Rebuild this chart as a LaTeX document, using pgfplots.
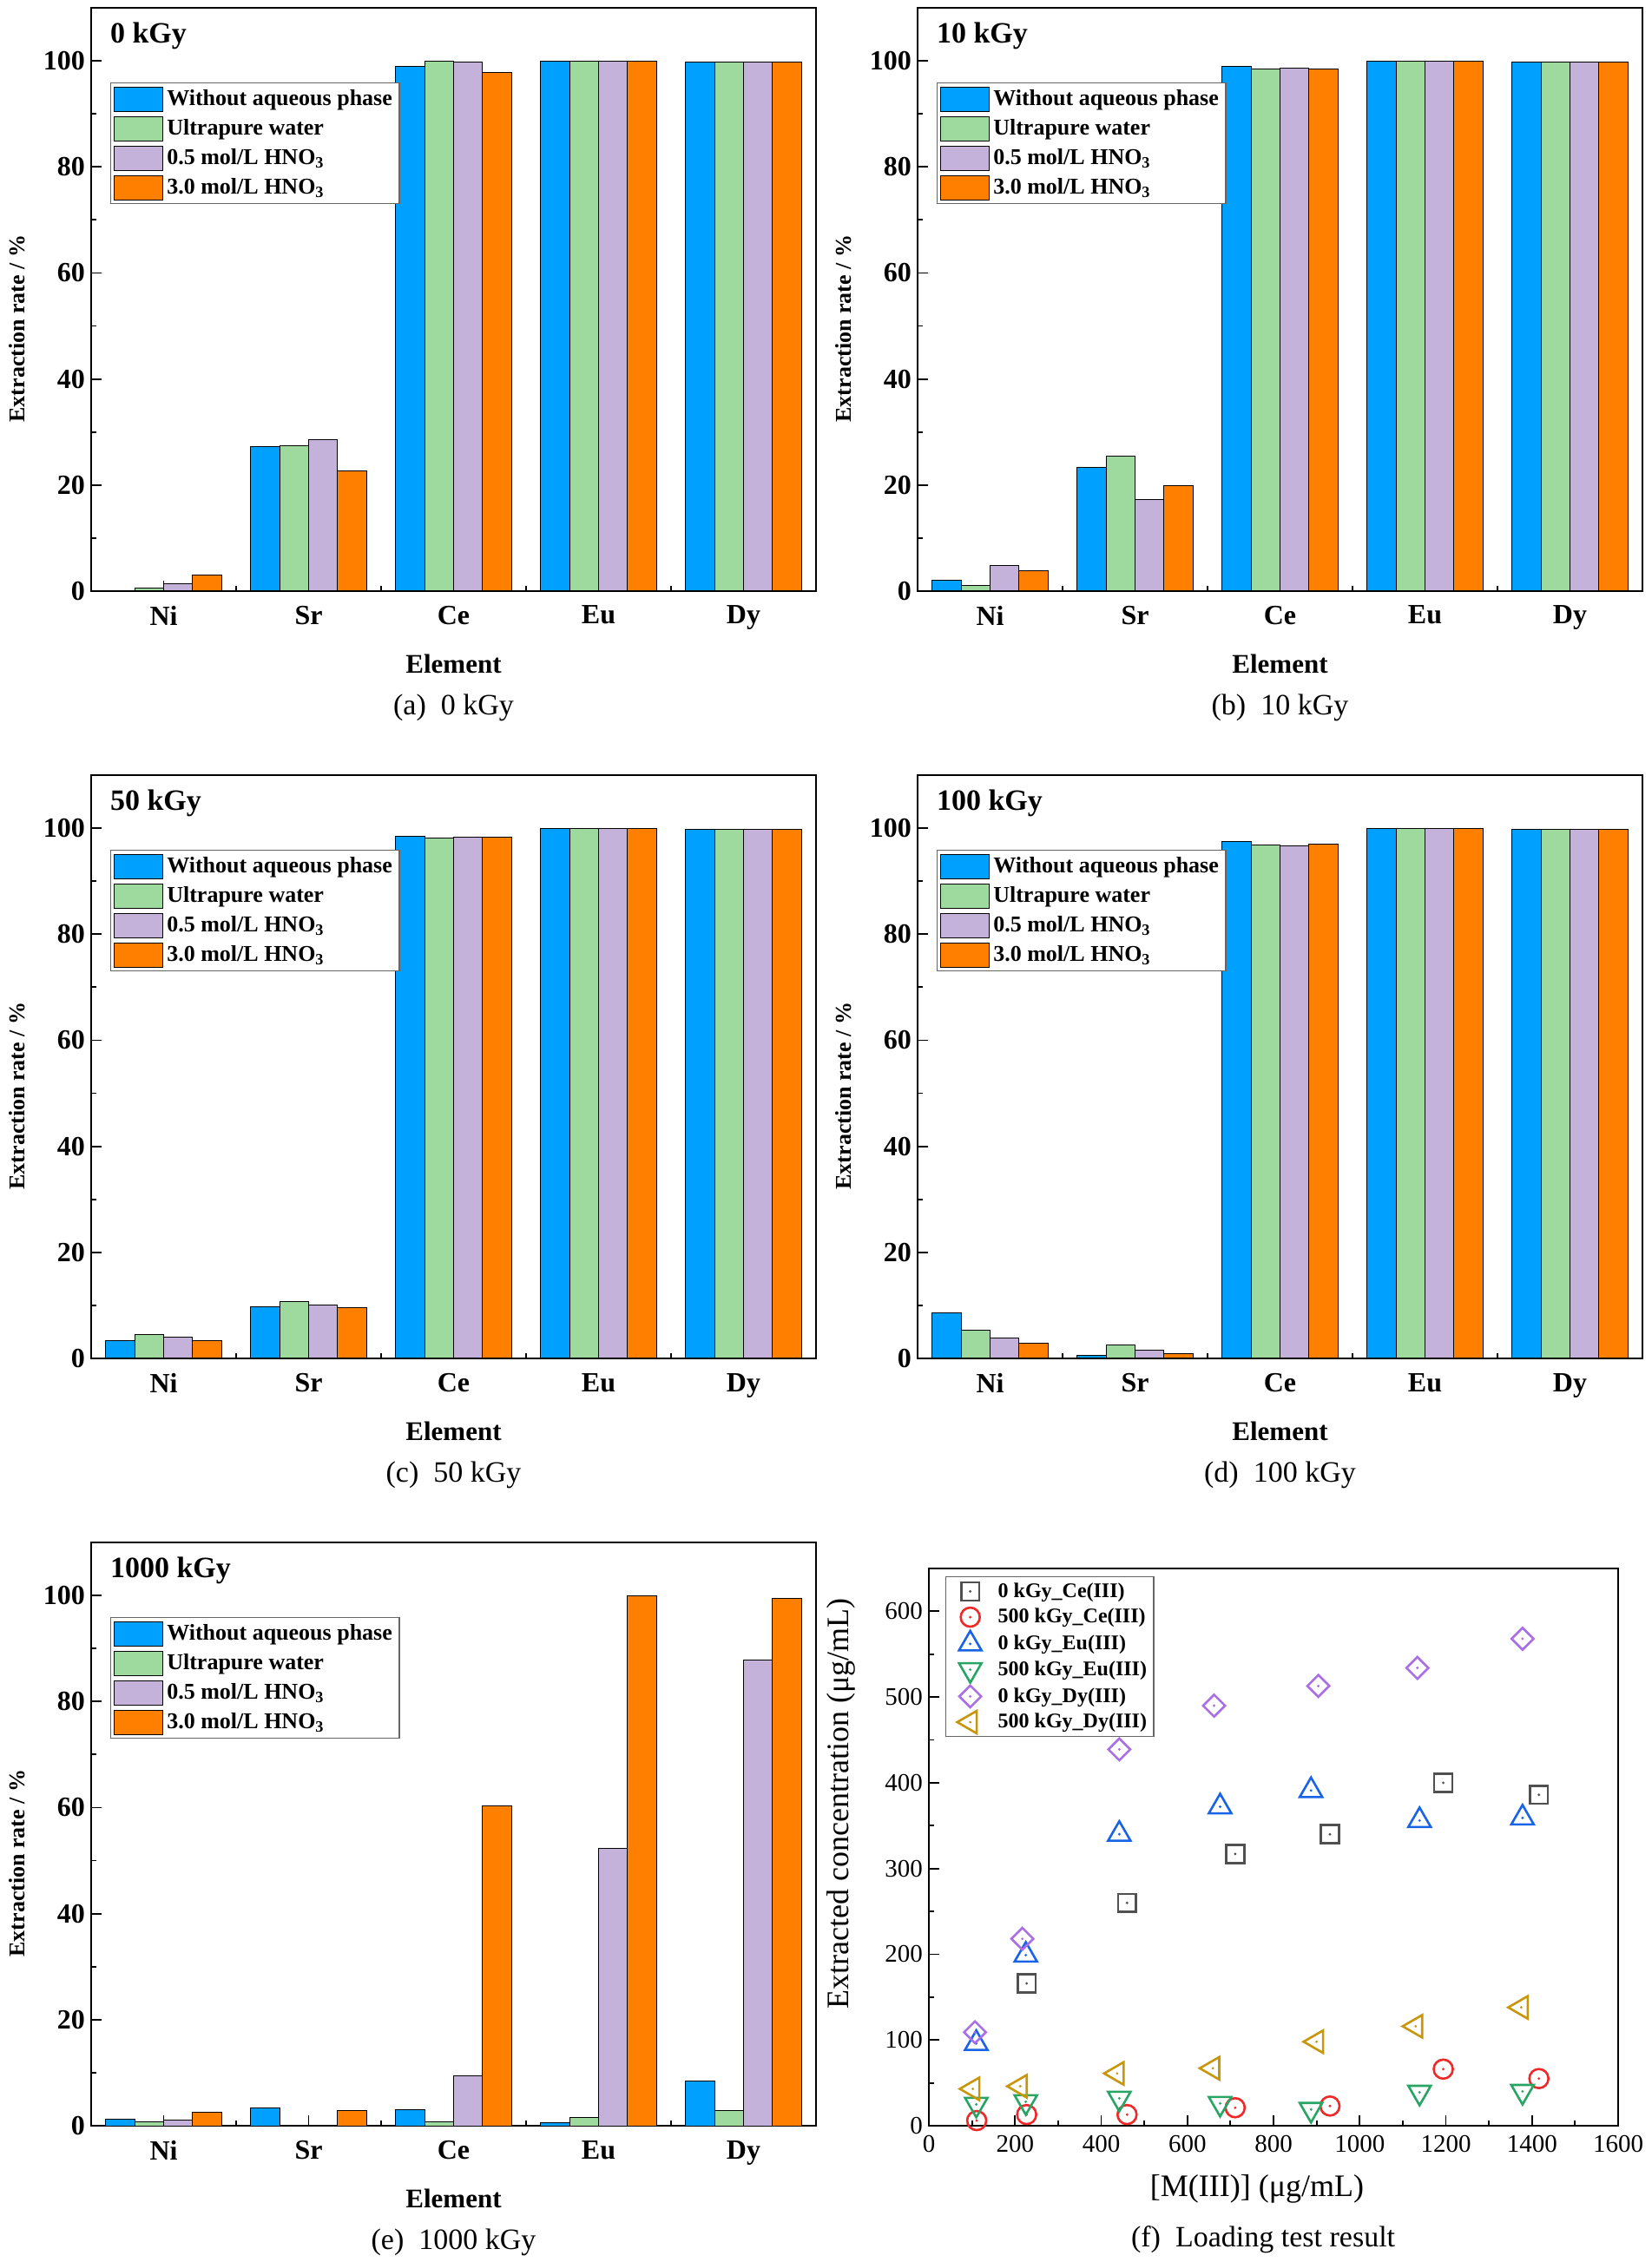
\documentclass[border=0pt]{standalone}
\usepackage{pgfplots}
\pgfplotsset{compat=1.18}
\usepackage{pgfplotstable}
\usepackage{fontspec}
\setmainfont{Liberation Serif}

\definecolor{cB}{RGB}{0,160,255}
\definecolor{cG}{RGB}{158,218,158}
\definecolor{cP}{RGB}{196,178,218}
\definecolor{cO}{RGB}{255,128,0}
\definecolor{fCe0}{RGB}{80,80,80}
\definecolor{fCe5}{RGB}{240,40,40}
\definecolor{fEu0}{RGB}{25,100,230}
\definecolor{fEu5}{RGB}{40,165,100}
\definecolor{fDy0}{RGB}{170,110,230}
\definecolor{fDy5}{RGB}{200,150,10}

\newcommand{\fs}[1]{\fontsize{#1}{#1}\selectfont}

\pgfdeclareplotmark{sqd}{%
 \pgfpathrectangle{\pgfqpoint{-\pgfplotmarksize}{-\pgfplotmarksize}}{\pgfqpoint{2\pgfplotmarksize}{2\pgfplotmarksize}}\pgfusepathqstroke
 \pgfpathcircle{\pgfpointorigin}{0.8pt}\pgfusepathqfill}
\pgfdeclareplotmark{cid}{%
 \pgfpathcircle{\pgfpointorigin}{\pgfplotmarksize}\pgfusepathqstroke
 \pgfpathcircle{\pgfpointorigin}{0.8pt}\pgfusepathqfill}
\pgfdeclareplotmark{trid}{%
 \pgfpathmoveto{\pgfqpointpolar{90}{\pgfplotmarksize}}%
 \pgfpathlineto{\pgfqpointpolar{-30}{\pgfplotmarksize}}%
 \pgfpathlineto{\pgfqpointpolar{210}{\pgfplotmarksize}}%
 \pgfpathclose\pgfusepathqstroke
 \pgfpathcircle{\pgfpointorigin}{0.8pt}\pgfusepathqfill}
\pgfdeclareplotmark{diad}{%
 \pgfpathmoveto{\pgfqpoint{0pt}{\pgfplotmarksize}}%
 \pgfpathlineto{\pgfqpoint{\pgfplotmarksize}{0pt}}%
 \pgfpathlineto{\pgfqpoint{0pt}{-\pgfplotmarksize}}%
 \pgfpathlineto{\pgfqpoint{-\pgfplotmarksize}{0pt}}%
 \pgfpathclose\pgfusepathqstroke
 \pgfpathcircle{\pgfpointorigin}{0.8pt}\pgfusepathqfill}

\pgfplotstableread{
x a b c d
0 0.1 0.6 1.4 3.1
1 27.2 27.4 28.5 22.6
2 99.0 99.9 99.7 97.8
3 99.9 99.9 99.9 99.9
4 99.7 99.7 99.7 99.7
}\tA
\pgfplotstableread{
x a b c d
0 2.1 1.0 4.85 3.9
1 23.4 25.4 17.2 19.9
2 98.9 98.4 98.7 98.4
3 99.9 99.9 99.9 99.9
4 99.7 99.7 99.7 99.7
}\tB
\pgfplotstableread{
x a b c d
0 3.3 4.5 4.0 3.4
1 9.7 10.7 10.1 9.6
2 98.5 98.1 98.3 98.3
3 99.9 99.9 99.9 99.9
4 99.8 99.8 99.8 99.8
}\tC
\pgfplotstableread{
x a b c d
0 8.55 5.3 3.9 2.8
1 0.65 2.5 1.5 0.9
2 97.4 96.8 96.6 97.0
3 99.9 99.9 99.9 99.9
4 99.7 99.7 99.7 99.7
}\tD
\pgfplotstableread{
x a b c d
0 1.25 0.8 1.0 2.6
1 3.3 0.1 0.0 2.8
2 3.1 0.7 9.4 60.4
3 0.5 1.6 52.3 100.0
4 8.5 2.9 87.9 99.5
}\tE

\pgfplotsset{
 mybar/.style={ybar, bar width=0.2, draw=black, line width=0.5pt,
   legend image code/.code={\draw[##1] (0pt,-7pt) rectangle (28pt,7pt);}},
 barpanel/.style={
  width=417.5pt, height=336pt, scale only axis, clip=false,
  xmin=-0.5, xmax=4.5, ymin=0, ymax=110,
  xtick={0,1,2,3,4}, xticklabels={Ni,Sr,Ce,Eu,Dy},
  minor xtick={0.5,1.5,2.5,3.5},
  ytick={0,20,40,60,80,100}, minor ytick={10,30,50,70,90},
  tick align=inside, xtick pos=bottom, ytick pos=left,
  major tick length=6pt, minor tick length=3pt,
  tick style={black, line width=0.9pt},
  axis line style={line width=1.1pt},
  ticklabel style={font=\bfseries\fs{16}},
  /pgf/number format/assume math mode=true,
  xticklabel style={yshift=-5pt},
  xlabel={Element}, ylabel={Extraction rate / \%},
  xlabel style={font=\bfseries\fs{15.5}, at={(axis description cs:0.5,-0.125)}, anchor=center},
  ylabel style={font=\bfseries\fs{13}, at={(axis description cs:-0.102,0.45)}, anchor=center},
  legend style={at={(0.026,0.872)}, anchor=north west, draw=black!60, line width=0.6pt,
    font=\bfseries\fs{13}, row sep=2.5pt, inner xsep=2pt, inner ysep=2pt,
    cells={anchor=west}},
 }
}

\newcommand{\barpanel}[4]{%
\begin{axis}[barpanel, at={#1}, anchor=south west]
\addplot[mybar, fill=cB, bar shift=-0.3] table[x=x,y=a]{#2};
\addplot[mybar, fill=cG, bar shift=-0.1] table[x=x,y=b]{#2};
\addplot[mybar, fill=cP, bar shift=0.1] table[x=x,y=c]{#2};
\addplot[mybar, fill=cO, bar shift=0.3] table[x=x,y=d]{#2};
\legend{Without aqueous phase, Ultrapure water, 0.5 mol/L HNO\textsubscript{3}, 3.0 mol/L HNO\textsubscript{3}}
\node[anchor=west, font=\bfseries\fs{17}] at (rel axis cs:0.018,0.952) {#3};
\node[font=\fs{17}] at (rel axis cs:0.5,-0.2) {#4};
\end{axis}}

\begin{document}
\begin{tikzpicture}
\useasboundingbox (0,0) rectangle (951pt,1303pt);
\barpanel{(52.5pt,962.5pt)}{\tA}{0 kGy}{(a)~~0 kGy}
\barpanel{(528.5pt,962.5pt)}{\tB}{10 kGy}{(b)~~10 kGy}
\barpanel{(52.5pt,520.5pt)}{\tC}{50 kGy}{(c)~~50 kGy}
\barpanel{(528.5pt,520.5pt)}{\tD}{100 kGy}{(d)~~100 kGy}
\barpanel{(52.5pt,78.5pt)}{\tE}{1000 kGy}{(e)~~1000 kGy}

\begin{axis}[at={(535pt,78.5pt)}, anchor=south west, width=397pt, height=321pt,
  scale only axis, clip=false,
  xmin=0, xmax=1600, ymin=0, ymax=650,
  xtick={0,200,...,1600}, minor xtick={100,300,...,1500},
  ytick={0,100,...,600}, minor ytick={50,150,...,550},
  tick align=inside, xtick pos=bottom, ytick pos=left,
  major tick length=6pt, minor tick length=3pt,
  tick style={black, line width=0.9pt},
  axis line style={line width=1.1pt},
  scaled ticks=false,
  /pgf/number format/1000 sep={},
  /pgf/number format/assume math mode=true,
  ticklabel style={font=\fs{14.5}},
  xticklabel style={yshift=-2pt},
  xlabel={[M(III)] (μg/mL)}, ylabel={Extracted concentration (μg/mL)},
  xlabel style={font=\fs{18}, at={(axis description cs:0.476,-0.114)}, anchor=center},
  ylabel style={font=\fs{18}, at={(axis description cs:-0.127,0.578)}, anchor=center},
  legend style={at={(0.024,0.986)}, anchor=north west, draw=black!60, line width=0.6pt,
    font=\bfseries\fs{12}, row sep=1pt, inner xsep=2pt, inner ysep=1.5pt,
    cells={anchor=west}},
  legend image code/.code={\path[draw=none,fill=none] (0pt,0pt) rectangle (26pt,0.1pt);\draw[#1] plot coordinates {(12pt,0pt)};},
]
\addplot[only marks, color=fCe0, mark=sqd, mark size=5.2pt, line width=1.3pt]
 coordinates {(227,166) (460,260) (711,317) (931,340) (1194,400) (1416,386)};
\addplot[only marks, color=fCe5, mark=cid, mark size=5.5pt, line width=1.3pt]
 coordinates {(111,6) (227,13) (460,13) (711,21) (931,23) (1194,66) (1416,55)};
\addplot[only marks, color=fEu0, mark=trid, mark size=7.5pt, line width=1.3pt]
 coordinates {(110,96) (225,199) (442,340) (676,372) (887,391) (1139,356) (1378,359)};
\addplot[only marks, color=fEu5, mark=trid, mark size=7.5pt, line width=1.3pt, mark options={rotate=180}]
 coordinates {(110,25) (225,28) (442,32) (676,26) (887,19) (1139,39) (1378,40)};
\addplot[only marks, color=fDy0, mark=diad, mark size=6.3pt, line width=1.3pt]
 coordinates {(107,109) (217,218) (442,439) (662,490) (904,513) (1134,534) (1378,568)};
\addplot[only marks, color=fDy5, mark=trid, mark size=7.5pt, line width=1.3pt, mark options={rotate=90}]
 coordinates {(102,43) (212,46) (437,61) (659,67) (900,98) (1130,116) (1375,138)};
\legend{0 kGy\_Ce(III), 500 kGy\_Ce(III), 0 kGy\_Eu(III), 500 kGy\_Eu(III), 0 kGy\_Dy(III), 500 kGy\_Dy(III)}
\node[font=\fs{17}] at (rel axis cs:0.485,-0.204) {(f)~~Loading test result};
\end{axis}
\end{tikzpicture}
\end{document}
